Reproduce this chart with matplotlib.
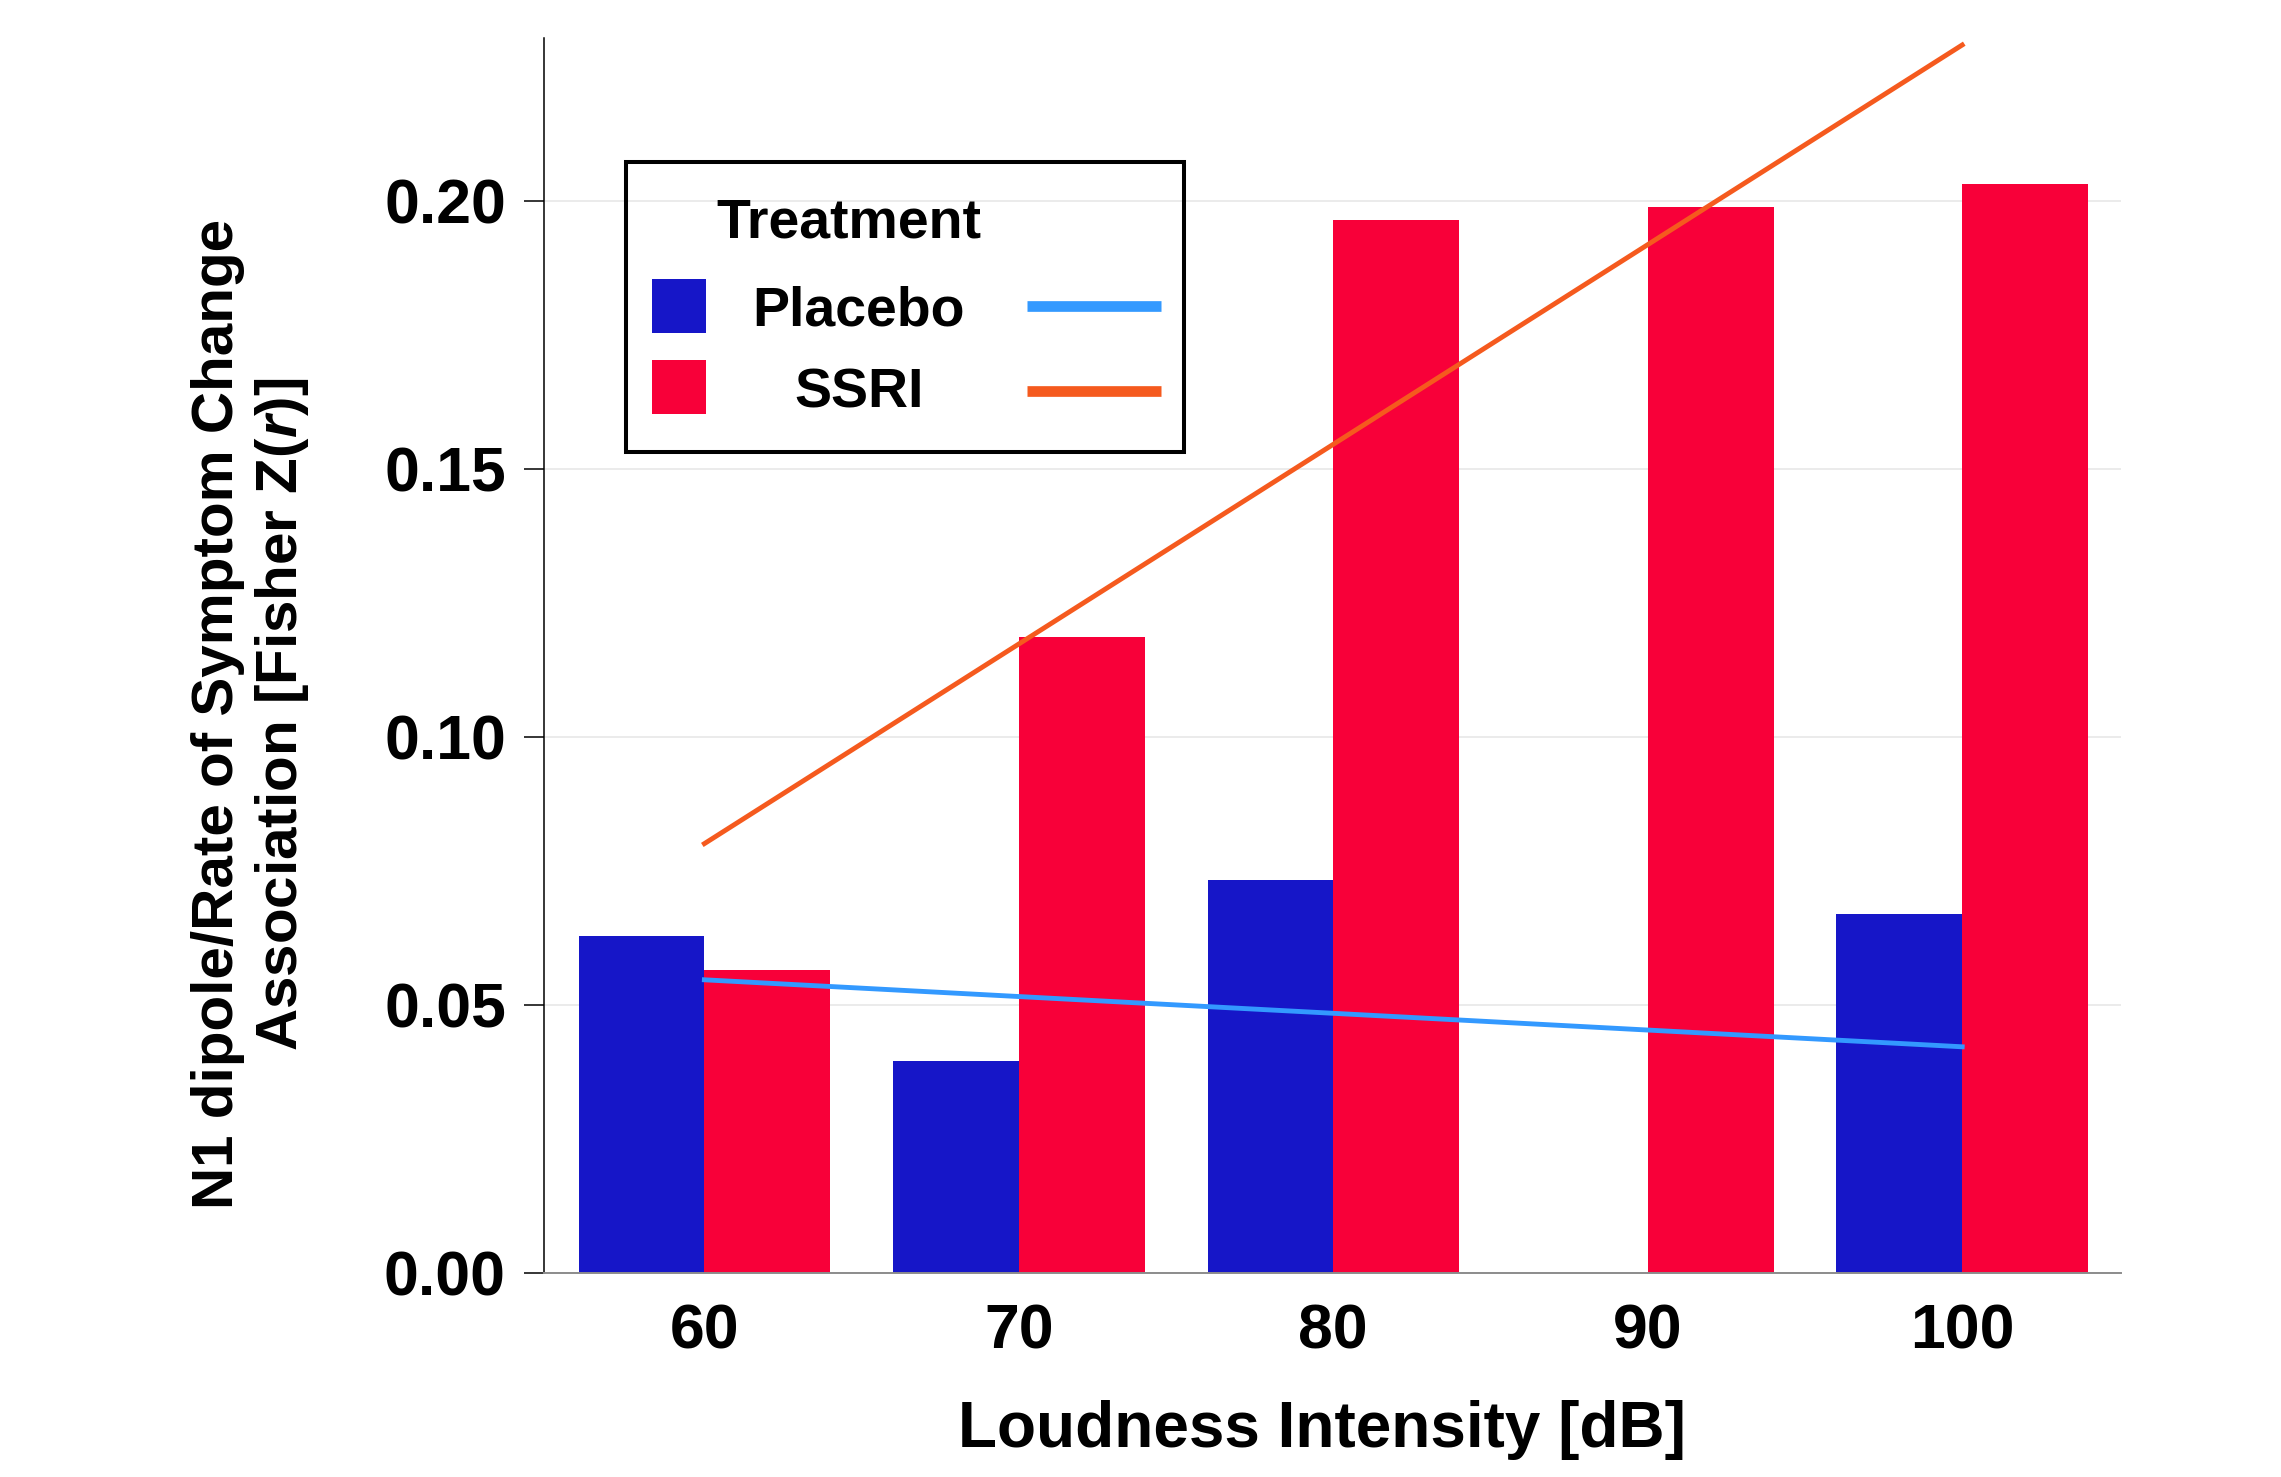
import numpy as np
import matplotlib
matplotlib.use("Agg")
import matplotlib.pyplot as plt
from matplotlib.patches import Rectangle
from matplotlib.lines import Line2D

plt.rcParams['font.family'] = ['Liberation Sans', 'DejaVu Sans']
plt.rcParams['font.weight'] = 'bold'
plt.rcParams['mathtext.fontset'] = 'custom'
plt.rcParams['mathtext.rm'] = 'Liberation Sans:bold'
plt.rcParams['mathtext.it'] = 'Liberation Sans:italic:bold'

# data
loudness = ["60", "70", "80", "90", "100"]
placebo = [0.0628, 0.0396, 0.0733, np.nan, 0.0670]
ssri = [0.0565, 0.1187, 0.1964, 0.1989, 0.2032]

# fitted trend lines (endpoints at 60 dB and 100 dB)
fit_x = [0, 4]
placebo_fit = [0.0547, 0.0422]
ssri_fit = [0.0801, 0.2291]

c_placebo = "#1616C8"
c_ssri = "#F80039"
c_placebo_fit = "#3399FF"
c_ssri_fit = "#F55A1E"

W, H = 2281, 1477
fig = plt.figure(figsize=(W / 100, H / 100), dpi=100)
ax = fig.add_axes([544 / W, 1 - 1273 / H, (2121 - 544) / W, (1273 - 38) / H])

x = np.arange(len(loudness))
bw = 0.4
ax.bar(x - bw / 2, placebo, width=bw, color=c_placebo, zorder=2)
ax.bar(x + bw / 2, ssri, width=bw, color=c_ssri, zorder=2)
ax.plot(fit_x, placebo_fit, color=c_placebo_fit, lw=3.5, zorder=3)
ax.plot(fit_x, ssri_fit, color=c_ssri_fit, lw=3.5, zorder=3)

ax.set_xlim(-0.51, 4.505)
ax.set_ylim(0, 0.2304)
ax.set_xticks(x)
ax.set_xticklabels(loudness)
ax.set_yticks([0, 0.05, 0.10, 0.15, 0.20])
ax.set_yticklabels(["0.00", "0.05", "0.10", "0.15", "0.20"])
ax.tick_params(axis='y', length=14.4, width=1.1, pad=13, labelsize=45, color='black')
ax.tick_params(axis='x', length=0, pad=21, labelsize=45)
for lab in ax.get_xticklabels() + ax.get_yticklabels():
    lab.set_fontweight('bold')

ax.yaxis.grid(True, color='#EBEBEB', lw=1.4, zorder=0)
ax.set_axisbelow(True)
ax.spines['top'].set_visible(False)
ax.spines['right'].set_visible(False)
ax.spines['left'].set_linewidth(1.1)
ax.spines['bottom'].set_color('#8C8C8C')
ax.spines['bottom'].set_linewidth(1.4)

fig.text(1322 / W, 1 - 1430 / H, "Loudness Intensity [dB]", ha='center', va='center',
         fontsize=46, fontweight='bold')
fig.text(251 / W, 1 - 714 / H,
         "N1 dipole/Rate of Symptom Change\nAssociation [Fisher Z($r$)]",
         ha='center', va='center', rotation=90, fontsize=42, fontweight='bold',
         linespacing=1.2)


# legend built by hand in pixel coordinates of the figure
def fx(px):
    return px / W


def fy(py):
    return 1 - py / H


fig.add_artist(Rectangle((fx(626), fy(452)), fx(1184) - fx(626), fy(162) - fy(452),
                         transform=fig.transFigure, fill=False, ec='black', lw=2.9))
fig.text(fx(849), fy(237), "Treatment", ha='center', va='baseline', fontsize=40, fontweight='bold')
rows = [("Placebo", c_placebo, c_placebo_fit, 279, 325, 306),
        ("SSRI", c_ssri, c_ssri_fit, 360, 408, 391)]
for name, fc, lc, ptop, base, ly in rows:
    fig.add_artist(Rectangle((fx(652), fy(ptop + 54)), fx(706) - fx(652), fy(ptop) - fy(ptop + 54),
                             transform=fig.transFigure, color=fc, lw=0))
    fig.text(fx(859), fy(base), name, ha='center', va='baseline', fontsize=40, fontweight='bold')
    fig.add_artist(Line2D([fx(1027), fx(1161)], [fy(ly), fy(ly)], transform=fig.transFigure,
                          color=lc, lw=7.7, solid_capstyle='butt'))

fig.savefig("out.png", dpi=100)
